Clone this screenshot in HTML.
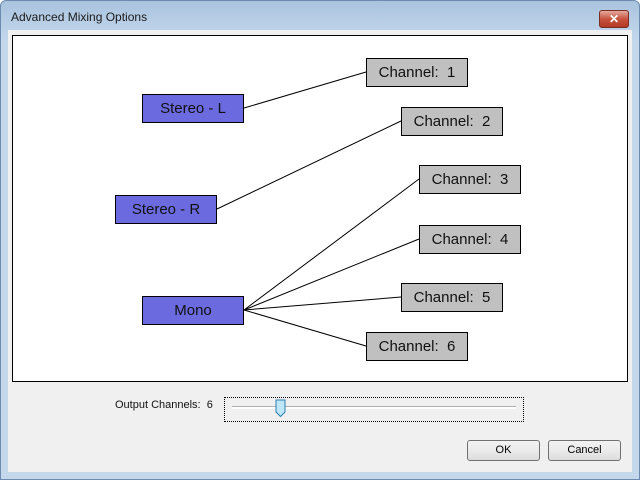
<!DOCTYPE html>
<html><head><style>
body{margin:0;width:640px;height:480px;overflow:hidden;font-family:"Liberation Sans",sans-serif;}
.win{position:absolute;left:0;top:0;width:638px;height:478px;border:1px solid #6d8bb0;border-radius:6px 6px 0 0;background:linear-gradient(#a9c3de,#c4d8ec 40px,#c4d8ec);}
.client{position:absolute;left:8px;top:30px;width:624px;height:442px;background:#f0f0f0;}
.title{position:absolute;left:11px;top:10px;font-size:12px;color:#1a1a1a;}
.close{position:absolute;left:599px;top:10px;width:28px;height:16px;border:1px solid #7a2b22;border-radius:3px;background:linear-gradient(#e5a99d,#c7533e 50%,#b23a25);color:#fff;font-size:12px;font-weight:bold;text-align:center;line-height:16px;}
.panel{position:absolute;left:12px;top:35px;width:614px;height:345px;background:#fff;border:1px solid #000;}
.n{position:absolute;box-sizing:border-box;border:1px solid #000;text-align:center;font-size:15px;line-height:28px;height:29px;width:102px;color:#111;}
.b{background:#6b6bdf;}
.g{background:#c0c0c0;}
.btn{position:absolute;top:440px;width:73px;height:21px;box-sizing:border-box;border:1px solid #707070;border-radius:3px;background:linear-gradient(#f2f2f2,#ebebeb 50%,#dcdcdc);font-size:11px;text-align:center;line-height:19px;}
</style></head><body>
<div class="win"></div>
<div class="client"></div>
<div class="title">Advanced Mixing Options</div>
<div class="close">✕</div>
<div class="panel"></div>
<svg style="position:absolute;left:0;top:0" width="640" height="480">
<g stroke="#000" stroke-width="1">
<line x1="244" y1="108" x2="366" y2="72"/>
<line x1="217" y1="209" x2="401" y2="121"/>
<line x1="244" y1="310" x2="419" y2="179"/>
<line x1="244" y1="310" x2="419" y2="239"/>
<line x1="244" y1="310" x2="401" y2="297"/>
<line x1="244" y1="310" x2="366" y2="346"/>
</g></svg>
<div class="n b" style="left:142px;top:94px">Stereo - L</div>
<div class="n b" style="left:115px;top:195px">Stereo - R</div>
<div class="n b" style="left:142px;top:296px">Mono</div>
<div class="n g" style="left:366px;top:58px">Channel:&nbsp; 1</div>
<div class="n g" style="left:401px;top:107px">Channel:&nbsp; 2</div>
<div class="n g" style="left:419px;top:165px">Channel:&nbsp; 3</div>
<div class="n g" style="left:419px;top:225px">Channel:&nbsp; 4</div>
<div class="n g" style="left:401px;top:283px">Channel:&nbsp; 5</div>
<div class="n g" style="left:366px;top:332px">Channel:&nbsp; 6</div>
<div style="position:absolute;left:115px;top:399px;font-size:11px;color:#111">Output Channels:&nbsp; 6</div>
<div style="position:absolute;left:224px;top:397px;width:298px;height:23px;border:1px dotted #000;"></div>
<div style="position:absolute;left:232px;top:406px;width:284px;height:2px;background:#fff;border-top:1px solid #b0b0b0;"></div>
<svg style="position:absolute;left:275px;top:399px" width="12" height="19"><path d="M1 1H10V13L5.5 17.5L1 13Z" fill="#bfe6f8" stroke="#2b7fb0"/></svg>
<div class="btn" style="left:467px">OK</div>
<div class="btn" style="left:548px">Cancel</div>
</body></html>
